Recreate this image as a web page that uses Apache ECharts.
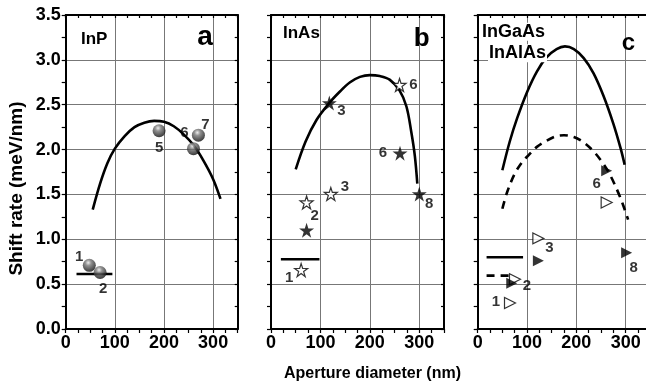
<!DOCTYPE html>
<html>
<head>
<meta charset="utf-8">
<script src="https://cdn.jsdelivr.net/npm/echarts@6/dist/echarts.min.js"></script>
<style>
html,body{margin:0;padding:0;background:#fff;}
#chart{width:646px;height:390px;}
</style>
</head>
<body>
<div id="chart"></div>
<script>
// ---------- data ----------
const xTickValues = [0, 100, 200, 300];
const yTickValues = [0, 0.5, 1, 1.5, 2, 2.5, 3, 3.5];

// Panel a: InP
const inpCurveX = [55, 70, 85, 100, 120, 140, 160, 180, 200, 220, 240, 260, 280, 300, 315];
const inpCurveY = [1.33, 1.62, 1.85, 2.01, 2.15, 2.25, 2.30, 2.32, 2.31, 2.26, 2.17, 2.05, 1.88, 1.67, 1.45];
const inpPtsX = [48, 70, 190, 260, 270];
const inpPtsY = [0.71, 0.63, 2.21, 2.01, 2.16];
const inpPtsLabels = ['1', '2', '5', '6', '7'];
const inpBarX = [22, 95];
const inpBarY = [0.613, 0.613];

// Panel b: InAs
const inasCurveX = [50, 70, 92, 118, 140, 160, 180, 200, 220, 240, 260, 274, 284, 291, 296];
const inasCurveY = [1.78, 2.09, 2.33, 2.52, 2.65, 2.75, 2.81, 2.83, 2.82, 2.78, 2.66, 2.48, 2.19, 1.93, 1.62];
const inasFilledX = [72, 118, 261, 300];
const inasFilledY = [1.10, 2.52, 1.96, 1.505];
const inasFilledLabels = ['', '3', '6', '8'];
const inasOpenX = [61, 72, 121, 260];
const inasOpenY = [0.657, 1.41, 1.505, 2.72];
const inasOpenLabels = ['1', '2', '3', '6'];
const inasBarX = [20, 98];
const inasBarY = [0.777, 0.777];

// Panel c: InGaAs (solid) / InAlAs (dashed)
const ingaasCurveX = [50, 65, 80, 100, 120, 140, 160, 177, 195, 215, 235, 255, 275, 290, 298];
const ingaasCurveY = [1.77, 2.09, 2.35, 2.64, 2.87, 3.03, 3.12, 3.15, 3.12, 3.02, 2.85, 2.60, 2.29, 2.01, 1.83];
const inalasCurveX = [50, 60, 75, 90, 100, 120, 140, 160, 175, 195, 215, 235, 255, 270, 285, 295, 305];
const inalasCurveY = [1.34, 1.53, 1.73, 1.86, 1.92, 2.03, 2.10, 2.15, 2.16, 2.14, 2.08, 1.98, 1.84, 1.70, 1.52, 1.38, 1.22];
const triFilledX = [69, 123, 261.5, 302];
const triFilledY = [0.51, 0.76, 1.765, 0.85];
const triFilledLabels = ['', '', '6', '8'];
const triOpenX = [65.5, 75.6, 123, 261.5];
const triOpenY = [0.29, 0.554, 1.01, 1.41];
const triOpenLabels = ['1', '2', '3', ''];
const solidKeyX = [18, 92];
const solidKeyY = [0.80, 0.80];
const dashKeyX = [18, 72];
const dashKeyY = [0.595, 0.595];

// ---------- layout / styles (not data) ----------
const inpLabelOffsets = [[-10, -8], [3, 16], [0, 17], [-9, -16], [7, -10]];
const inasFilledOffsets = [[0, 0], [12, 8], [-17, 0], [10, 10]];
const inasOpenOffsets = [[-12, 8], [8, 13], [14, -7], [14, 0]];
const triFilledOffsets = [[0, 0], [0, 0], [-10, 13], [7, 15]];
const triOpenOffsets = [[-14, -1], [12, 7], [11, 9], [0, 0]];

const FONT = 'Liberation Sans, Arial, Helvetica, sans-serif';
const panels = [
  { left: 65.7, width: 172, showY: true },
  { left: 271, width: 173, showY: false },
  { left: 477.7, width: 172.6, showY: false }
];
const TOP = 15, HEIGHT = 314;
const STAR = 'path://M50 0 L61.23 34.55 L97.55 34.55 L68.16 55.9 L79.39 90.45 L50 69.1 L20.61 90.45 L31.84 55.9 L2.45 34.55 L38.77 34.55 Z';

function near(v, list) { return list.some(t => Math.abs(t - v) < 1e-6); }
function pairs(xs, ys) { return xs.map((x, i) => [x, ys[i]]); }

const grid = [], xAxis = [], yAxis = [];
panels.forEach((p, i) => {
  grid.push({ left: p.left, top: TOP, width: p.width, height: HEIGHT, containLabel: false, outerBoundsMode: 'none' });
  const axLine = { show: true, onZero: false, lineStyle: { color: '#000', width: 2 } };
  xAxis.push({
    gridIndex: i, type: 'value', position: 'bottom', min: 0, max: 350, interval: 25,
    axisLine: axLine,
    axisTick: { show: true, inside: false, length: 4, lineStyle: { color: '#000', width: 1.2 } },
    axisLabel: { show: true, margin: 5, color: '#000', fontSize: 18, fontWeight: 'bold', fontFamily: FONT,
      formatter: v => near(v, xTickValues) ? String(v) : '' },
    splitLine: { show: false }
  });
  xAxis.push({
    gridIndex: i, type: 'value', position: 'top', min: 0, max: 350, interval: 25,
    axisLine: axLine,
    axisTick: { show: true, inside: true, length: 3, lineStyle: { color: '#000', width: 1.2 } },
    axisLabel: { show: false }, splitLine: { show: false }
  });
  xAxis.push({
    gridIndex: i, type: 'value', position: 'bottom', min: 0, max: 350, interval: 100,
    axisLine: { show: false }, axisTick: { show: false }, axisLabel: { show: false },
    splitLine: { show: true, lineStyle: { color: '#777', width: 1 } }
  });
  yAxis.push({
    gridIndex: i, type: 'value', position: 'left', min: 0, max: 3.5, interval: 0.25,
    axisLine: axLine,
    axisTick: { show: true, inside: false, length: 4, lineStyle: { color: '#000', width: 1.2 } },
    axisLabel: { show: p.showY, margin: 5, color: '#000', fontSize: 18, fontWeight: 'bold', fontFamily: FONT,
      formatter: v => near(v, yTickValues) ? v.toFixed(1) : '' },
    splitLine: { show: false }
  });
  yAxis.push({
    gridIndex: i, type: 'value', position: 'right', min: 0, max: 3.5, interval: 0.25,
    axisLine: axLine,
    axisTick: { show: true, inside: true, length: 3, lineStyle: { color: '#000', width: 1.2 } },
    axisLabel: { show: false }, splitLine: { show: false }
  });
  yAxis.push({
    gridIndex: i, type: 'value', position: 'left', min: 0, max: 3.5, interval: 0.5,
    axisLine: { show: false }, axisTick: { show: false }, axisLabel: { show: false },
    splitLine: { show: true, lineStyle: { color: '#777', width: 1 } }
  });
});

function lineSeries(pi, xs, ys, dashed) {
  return {
    type: 'line', xAxisIndex: pi * 3, yAxisIndex: pi * 3,
    data: pairs(xs, ys), showSymbol: false, symbol: 'none',
    smooth: 0.35,
    lineStyle: { color: '#000', width: 2.6, type: dashed ? [8, 6] : 'solid', cap: 'butt' },
    z: 3, silent: true, animation: false
  };
}
function scatterSeries(pi, xs, ys, labels, offsets, sym) {
  return {
    type: 'scatter', xAxisIndex: pi * 3, yAxisIndex: pi * 3,
    symbol: sym.symbol, symbolSize: sym.size, symbolRotate: sym.rotate || 0,
    itemStyle: sym.style, z: 4, animation: false,
    data: xs.map((x, i) => ({
      value: [x, ys[i]],
      label: {
        show: !!labels[i], formatter: labels[i] || '', position: 'inside',
        offset: offsets[i], color: '#000', fontSize: 15, fontWeight: 'bold', fontFamily: FONT,
        textBorderWidth: 0
      }
    }))
  };
}

const sphereStyle = {
  color: { type: 'radial', x: 0.42, y: 0.3, r: 0.75,
    colorStops: [{ offset: 0, color: '#e8e8e8' }, { offset: 0.3, color: '#777' }, { offset: 1, color: '#000' }] },
  borderWidth: 0
};
const openStyle = { color: '#fff', borderColor: '#000', borderWidth: 1.2 };
const filledStyle = { color: '#000', borderWidth: 0 };

const series = [
  lineSeries(0, inpCurveX, inpCurveY, false),
  lineSeries(0, inpBarX, inpBarY, false),
  scatterSeries(0, inpPtsX, inpPtsY, inpPtsLabels, inpLabelOffsets, { symbol: 'circle', size: 13, style: sphereStyle }),

  lineSeries(1, inasCurveX, inasCurveY, false),
  lineSeries(1, inasBarX, inasBarY, false),
  scatterSeries(1, inasOpenX, inasOpenY, inasOpenLabels, inasOpenOffsets, { symbol: STAR, size: 13, style: openStyle }),
  scatterSeries(1, inasFilledX, inasFilledY, inasFilledLabels, inasFilledOffsets, { symbol: STAR, size: 15, style: filledStyle }),

  lineSeries(2, ingaasCurveX, ingaasCurveY, false),
  lineSeries(2, inalasCurveX, inalasCurveY, true),
  lineSeries(2, solidKeyX, solidKeyY, false),
  lineSeries(2, dashKeyX, dashKeyY, true),
  scatterSeries(2, triOpenX, triOpenY, triOpenLabels, triOpenOffsets, { symbol: 'triangle', size: 11, rotate: -90, style: openStyle }),
  scatterSeries(2, triFilledX, triFilledY, triFilledLabels, triFilledOffsets, { symbol: 'triangle', size: 11, rotate: -90, style: filledStyle })
];

function txt(text, x, y, size, align, extra) {
  return {
    type: 'text', x: x, y: y, z: 100,
    style: Object.assign({ text: text, font: 'bold ' + size + 'px ' + FONT, fill: '#000', align: align || 'left', verticalAlign: 'middle' }, extra || {})
  };
}

const graphic = [
  Object.assign(txt('Shift rate (meV/nm)', 17, 188.5, 19, 'center'), { rotation: Math.PI / 2 }),
  txt('Aperture diameter (nm)', 372.5, 374, 16, 'center'),
  txt('InP', 81, 39, 17, 'left'),
  txt('a', 205, 37, 28, 'center'),
  txt('InAs', 283, 33.5, 17, 'left'),
  txt('b', 421.7, 38.5, 26, 'center'),
  txt('c', 628.3, 43, 24, 'center'),
  txt('InGaAs', 481, 31.7, 18, 'left', { backgroundColor: '#fff', padding: [0, 1, 0, 1] }),
  txt('InAlAs', 488, 53.3, 18, 'left', { backgroundColor: '#fff', padding: [0, 1, 0, 1] })
];

const chart = echarts.init(document.getElementById('chart'), null, { renderer: 'canvas' });
chart.setOption({
  animation: false,
  backgroundColor: '#fff',
  grid: grid, xAxis: xAxis, yAxis: yAxis, series: series, graphic: graphic
});
</script>
</body>
</html>
